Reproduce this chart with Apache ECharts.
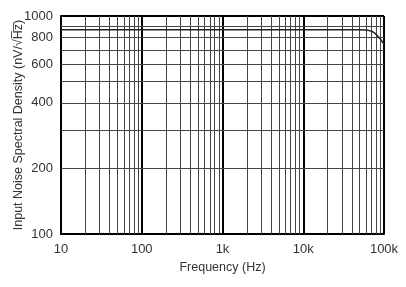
<!DOCTYPE html>
<html><head><meta charset="utf-8">
<script src="https://cdn.jsdelivr.net/npm/echarts@6/dist/echarts.min.js"></script>
<style>html,body{margin:0;padding:0;background:#fff}#c{width:406px;height:287px}</style>
</head><body><div id="c"></div>
<script>
var freq = [10, 100, 1000, 10000, 30000, 50000, 60000, 65000, 70000, 75000, 80000, 85000, 90000, 95000, 100000];
var noise = [865, 865, 865, 865, 865, 864, 862, 858, 851, 839, 823, 804, 784, 763, 743];
var xMajor = [100, 1000, 10000];
var xMinor = [20,30,40,50,60,70,80,90,200,300,400,500,600,700,800,900,2000,3000,4000,5000,6000,7000,8000,9000,20000,30000,40000,50000,60000,70000,80000,90000];
var yMinor = [200,300,400,500,600,700,800,900];
var yLabels = [200, 400, 600, 800];
var xTickLabels = {10:'10',100:'100',1000:'1k',10000:'10k',100000:'100k'};

var font = 'Liberation Sans, Arial, sans-serif';
var lines = [];
xMinor.forEach(function(v){ lines.push({xAxis: v, lineStyle:{color:'#444', width:1, type:'solid'}}); });
xMajor.forEach(function(v){ lines.push({xAxis: v, lineStyle:{color:'#000', width:2, type:'solid'}}); });
yMinor.forEach(function(v){
  var lab = yLabels.indexOf(v) >= 0;
  lines.push({yAxis: v, lineStyle:{color:'#444', width:1, type:'solid'},
    label:{show: lab, position:'start', formatter: String(v), distance: 8, color:'#333', fontSize: 13, fontFamily: font}});
});

var chart = echarts.init(document.getElementById('c'), null, {renderer:'canvas'});
chart.setOption({
  animation: false,
  grid: {left: 61, top: 16, right: 22, bottom: 53, show: false, containLabel: false, outerBoundsMode: 'none'},
  xAxis: {
    type: 'log', logBase: 10, min: 10, max: 100000,
    name: 'Frequency (Hz)', nameLocation: 'middle', nameGap: 27, nameMoveOverlap: false,
    nameTextStyle: {color:'#333', fontSize: 12.5, fontFamily: font},
    axisLine: {show: true, lineStyle:{color:'#000', width:2}},
    axisTick: {show: false},
    splitLine: {show: false},
    axisLabel: {color:'#333', fontSize: 13, fontFamily: font, margin: 9,
      formatter: function(v){ return xTickLabels[Math.round(v)] || ''; }}
  },
  yAxis: {
    type: 'log', logBase: 10, min: 100, max: 1000,
    name: 'Input Noise Spectral Density (nV/\u221AH\u0305z\u0305)', nameLocation: 'middle', nameGap: 36, nameMoveOverlap: false,
    nameTextStyle: {color:'#333', fontSize: 12.5, fontFamily: font},
    axisLine: {show: true, lineStyle:{color:'#000', width:2}},
    axisTick: {show: false},
    splitLine: {show: false},
    axisLabel: {color:'#333', fontSize: 13, fontFamily: font, margin: 8,
      formatter: function(v){ return String(Math.round(v)); }}
  },
  series: [
    {type:'line', data: [[100000,100],[100000,1000]], symbol:'none', silent:true,
     lineStyle:{color:'#000', width:2}},
    {type:'line', data: [[10,1000],[100000,1000]], symbol:'none', silent:true,
     lineStyle:{color:'#000', width:2}},
    {type:'line', data: freq.map(function(f,i){return [f, noise[i]];}),
     symbol:'none', smooth: 0.3, lineStyle:{color:'#222', width:1.5}, z: 5,
     markLine: {silent: true, symbol: ['none','none'], animation:false, label:{show:false}, data: lines}}
  ]
});
</script></body></html>
